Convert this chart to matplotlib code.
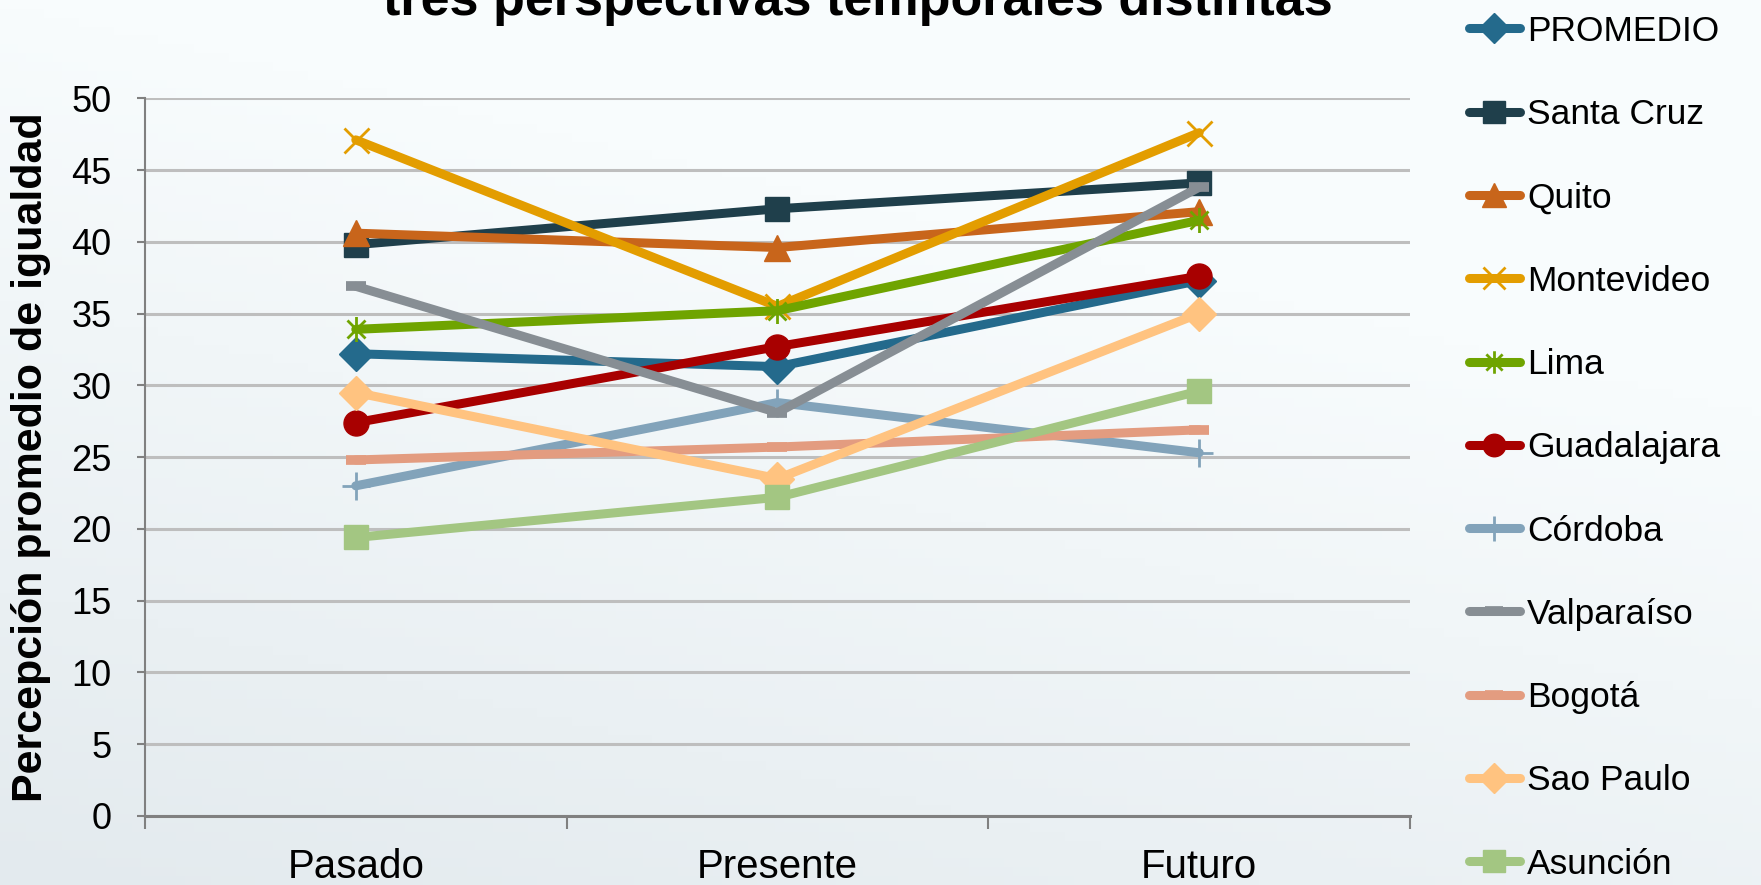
import numpy as np
import matplotlib
matplotlib.use('Agg')
from matplotlib import pyplot as plt
from matplotlib.path import Path

plt.rcParams['font.family'] = ['Liberation Sans', 'DejaVu Sans']

periodos = ['Pasado', 'Presente', 'Futuro']

promedio = [32.2, 31.3, 37.3]
santa_cruz = [39.8, 42.3, 44.1]
quito = [40.6, 39.6, 42.1]
montevideo = [47.1, 35.5, 47.6]
lima = [33.9, 35.2, 41.5]
guadalajara = [27.4, 32.7, 37.6]
cordoba = [23.0, 28.8, 25.3]
valparaiso = [36.9, 28.1, 43.8]
bogota = [24.8, 25.7, 26.9]
sao_paulo = [29.5, 23.5, 35.0]
asuncion = [19.4, 22.2, 29.6]

# asterisco tipo Excel: cruz en x + barra vertical
asterisco = Path([(0, -1), (0, 1), (-0.72, -0.72), (0.72, 0.72), (-0.72, 0.72), (0.72, -0.72)],
                 [Path.MOVETO, Path.LINETO, Path.MOVETO, Path.LINETO, Path.MOVETO, Path.LINETO])

series = [
    ('PROMEDIO', promedio, '#246A8C', 'D', 17, 1),
    ('Santa Cruz', santa_cruz, '#1F3F4B', 's', 17, 1),
    ('Quito', quito, '#C8651B', '^', 19, 1),
    ('Montevideo', montevideo, '#E39D00', 'x', 18, 2),
    ('Lima', lima, '#6FA400', asterisco, 18, 2),
    ('Guadalajara', guadalajara, '#A80000', 'o', 18, 1),
    ('Córdoba', cordoba, '#82A3BA', '+', 20, 2),
    ('Valparaíso', valparaiso, '#878E94', '_', 14, 7),
    ('Bogotá', bogota, '#E39C80', '_', 14, 7),
    ('Sao Paulo', sao_paulo, '#FFC380', 'D', 17, 1),
    ('Asunción', asuncion, '#A3C682', 's', 17, 1),
]

fig = plt.figure(figsize=(17.61, 8.85), dpi=100)

# fondo degradado
bg = fig.add_axes([0, 0, 1, 1], zorder=-10)
gx = np.linspace(0, 1, 200)
gy = np.linspace(0, 1, 100)
X, Y = np.meshgrid(gx, gy)
t = np.clip(0.75 * Y + 0.35 * (1 - X) - 0.35, 0, 1)
top = np.array([248, 252, 253]) / 255
low = np.array([220, 228, 233]) / 255
img = top[None, None, :] * (1 - t[..., None]) + low[None, None, :] * t[..., None]
bg.imshow(img, aspect='auto', extent=[0, 1, 0, 1], origin='upper')
bg.axis('off')

ax = fig.add_axes([0.0823, 0.078, 0.7184, 0.811])
ax.patch.set_alpha(0)

x = np.arange(len(periodos))
for nombre, vals, color, mk, ms, mew in series:
    ax.plot(x, vals, color=color, lw=6.5, marker=mk, ms=ms, mew=mew,
            mfc=color, mec=color, label=nombre, solid_capstyle='round',
            solid_joinstyle='round')

ax.set_ylim(0, 50)
ax.set_yticks(np.arange(0, 51, 5))
ax.set_xlim(-0.5, 2.5)
ax.set_xticks([-0.5, 0.5, 1.5, 2.5])
ax.set_xticklabels([])
ax.set_xticks(x, minor=True)
ax.set_xticklabels(periodos, minor=True)
ax.tick_params(axis='x', which='major', length=9, width=1.5, color='#808080')
ax.tick_params(axis='x', which='minor', length=0, pad=23, labelsize=29)
ax.tick_params(axis='y', length=6, width=1.5, color='#808080', pad=18, labelsize=26)
ax.grid(axis='y', color='#BEBEBE', lw=2.2)
ax.set_axisbelow(True)
for s in ['top', 'right']:
    ax.spines[s].set_visible(False)
ax.spines['left'].set_color('#808080')
ax.spines['left'].set_linewidth(1.5)
ax.spines['bottom'].set_color('#808080')
ax.spines['bottom'].set_linewidth(2.2)

ax.set_ylabel('Percepción promedio de igualdad', fontsize=31, fontweight='bold')
ax.yaxis.set_label_coords(-0.074, 0.5)

fig.text(0.487, 0.983, 'tres perspectivas temporales distintas', ha='center', va='baseline',
         fontsize=37.5, fontweight='bold')

ax.legend(loc='center left', bbox_to_anchor=(0.826, 0.494), bbox_transform=fig.transFigure,
          frameon=False, fontsize=25.5, handlelength=1.45, handletextpad=0.2,
          labelspacing=1.42, borderaxespad=0, markerscale=0.9)

plt.savefig('out.png', dpi=100)
